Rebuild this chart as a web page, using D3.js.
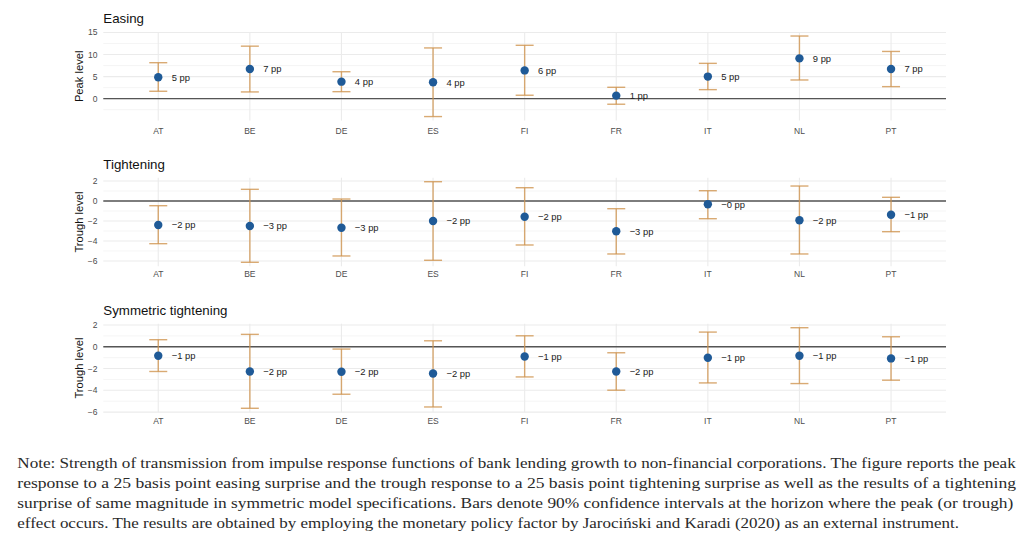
<!DOCTYPE html>
<html>
<head>
<meta charset="utf-8">
<script src="https://cdn.jsdelivr.net/npm/d3@7"></script>
<style>
  html, body { margin: 0; padding: 0; background: #fff; }
  svg { display: block; }
</style>
</head>
<body>
<svg id="chart" width="1024" height="540"></svg>
<script>
// ---------------- DATA ----------------
const countries = ["AT", "BE", "DE", "ES", "FI", "FR", "IT", "NL", "PT"];

const easingEst = [4.84, 6.72, 3.85, 3.70, 6.40, 0.68, 5.00, 9.13, 6.72];
const easingLo  = [1.67, 1.52, 1.58, -4.07, 0.77, -1.27, 2.04, 4.23, 2.72];
const easingHi  = [8.15, 11.90, 6.10, 11.50, 12.10, 2.57, 8.00, 14.20, 10.70];
const easingLabels = ["5 pp", "7 pp", "4 pp", "4 pp", "6 pp", "1 pp", "5 pp", "9 pp", "7 pp"];

const tightEst = [-2.40, -2.50, -2.67, -2.00, -1.57, -3.03, -0.33, -1.93, -1.37];
const tightLo  = [-4.27, -6.13, -5.50, -5.93, -4.40, -5.30, -1.77, -5.30, -3.07];
const tightHi  = [-0.47, 1.17, 0.20, 1.93, 1.33, -0.77, 1.03, 1.50, 0.37];
const tightLabels = ["−2 pp", "−3 pp", "−3 pp", "−2 pp", "−2 pp", "−3 pp", "−0 pp", "−2 pp", "−1 pp"];

const symEst = [-0.83, -2.27, -2.30, -2.45, -0.89, -2.27, -1.01, -0.83, -1.07];
const symLo  = [-2.27, -5.65, -4.36, -5.53, -2.77, -3.99, -3.32, -3.38, -3.07];
const symHi  = [0.65, 1.14, -0.21, 0.55, 1.01, -0.55, 1.35, 1.75, 0.92];
const symLabels = ["−1 pp", "−2 pp", "−2 pp", "−2 pp", "−1 pp", "−2 pp", "−1 pp", "−1 pp", "−1 pp"];

const panelTitles = ["Easing", "Tightening", "Symmetric tightening"];
const axisTitles = ["Peak level", "Trough level", "Trough level"];
const easingTicks = [0, 5, 10, 15];
const troughTicks = [-6, -4, -2, 0, 2];

const noteLines = [
  "Note: Strength of transmission from impulse response functions of bank lending growth to non-financial corporations. The figure reports the peak",
  "response to a 25 basis point easing surprise and the trough response to a 25 basis point tightening surprise as well as the results of a tightening",
  "surprise of same magnitude in symmetric model specifications. Bars denote 90% confidence intervals at the horizon where the peak (or trough)",
  "effect occurs. The results are obtained by employing the monetary policy factor by Jarociński and Karadi (2020) as an external instrument."
];

// ---------------- LAYOUT ----------------
const svg = d3.select("#chart");
const plotLeft = 103.3, plotRight = 946;
const panelH = 88.6;
const panels = [
  { top: 32.0,  est: easingEst, lo: easingLo, hi: easingHi, labels: easingLabels, ticks: easingTicks, titleY: 23,  xlabY: 133.5 },
  { top: 177.7, est: tightEst,  lo: tightLo,  hi: tightHi,  labels: tightLabels,  ticks: troughTicks, titleY: 169, xlabY: 277 },
  { top: 323.7, est: symEst,    lo: symLo,    hi: symHi,    labels: symLabels,    ticks: troughTicks, titleY: 315, xlabY: 424 }
];

const x = d3.scalePoint().domain(countries).range([plotLeft, plotRight]).padding(0.6);
const fmt = v => (v < 0 ? "−" + Math.abs(v) : String(v));

const barColor = "#CF9550";
const pointColor = "#1F5A97";
const capHalf = 9;

panels.forEach((p, i) => {
  const lo = d3.min(p.lo), hi = d3.max(p.hi);
  const pad = (hi - lo) * 0.05;
  const y = d3.scaleLinear().domain([lo - pad, hi + pad]).range([p.top + panelH, p.top]);
  const g = svg.append("g");
  const [d0, d1] = y.domain();

  // minor grid
  const step = p.ticks[1] - p.ticks[0];
  const minor = d3.range(Math.ceil(d0 / (step / 2)) * (step / 2), d1, step / 2)
    .filter(v => !p.ticks.includes(v) && Math.abs(v % step) > 1e-9);
  g.selectAll(".minor").data(minor).join("line")
    .attr("x1", plotLeft).attr("x2", plotRight)
    .attr("y1", d => y(d)).attr("y2", d => y(d))
    .attr("stroke", "#F2F2F2").attr("stroke-width", 0.8);

  // major grid
  g.selectAll(".major").data(p.ticks.filter(t => t >= d0 && t <= d1)).join("line")
    .attr("x1", plotLeft).attr("x2", plotRight)
    .attr("y1", d => y(d)).attr("y2", d => y(d))
    .attr("stroke", "#EBEBEB").attr("stroke-width", 1.1);

  // vertical grid
  g.selectAll(".vgrid").data(countries).join("line")
    .attr("x1", d => x(d)).attr("x2", d => x(d))
    .attr("y1", p.top + panelH).attr("y2", p.top)
    .attr("stroke", "#EBEBEB").attr("stroke-width", 1.1);

  // zero line
  g.append("line")
    .attr("x1", plotLeft).attr("x2", plotRight)
    .attr("y1", y(0)).attr("y2", y(0))
    .attr("stroke", "#555555").attr("stroke-width", 1.4);

  // y ticks
  g.selectAll(".ytick").data(p.ticks.filter(t => t >= d0 && t <= d1)).join("text")
    .attr("x", 97.5).attr("y", d => y(d))
    .attr("dy", "0.35em")
    .attr("text-anchor", "end")
    .attr("font-family", "Liberation Sans, Arial, sans-serif")
    .attr("font-size", 8.5)
    .attr("fill", "#4D4D4D")
    .text(d => fmt(d));

  // x ticks
  g.selectAll(".xtick").data(countries).join("text")
    .attr("x", d => x(d)).attr("y", p.xlabY)
    .attr("text-anchor", "middle")
    .attr("font-family", "Liberation Sans, Arial, sans-serif")
    .attr("font-size", 8.5)
    .attr("fill", "#4D4D4D")
    .text(d => d);

  // title
  g.append("text")
    .attr("x", plotLeft).attr("y", p.titleY)
    .attr("font-family", "Liberation Sans, Arial, sans-serif")
    .attr("font-size", 13.3)
    .attr("fill", "#111")
    .text(panelTitles[i]);

  // y axis title
  g.append("text")
    .attr("transform", `translate(82.5,${p.top + panelH / 2}) rotate(-90)`)
    .attr("text-anchor", "middle")
    .attr("font-family", "Liberation Sans, Arial, sans-serif")
    .attr("font-size", 11.2)
    .attr("fill", "#111")
    .text(axisTitles[i]);

  const rows = countries.map((c, k) => ({ c, est: p.est[k], lo: p.lo[k], hi: p.hi[k], label: p.labels[k] }));

  // error bars
  const eb = g.selectAll(".eb").data(rows).join("g")
    .attr("stroke", barColor).attr("stroke-opacity", 0.8).attr("stroke-width", 1.4).attr("fill", "none");
  eb.append("line")
    .attr("x1", d => x(d.c)).attr("x2", d => x(d.c))
    .attr("y1", d => y(d.lo)).attr("y2", d => y(d.hi));
  eb.append("line")
    .attr("x1", d => x(d.c) - capHalf).attr("x2", d => x(d.c) + capHalf)
    .attr("y1", d => y(d.lo)).attr("y2", d => y(d.lo));
  eb.append("line")
    .attr("x1", d => x(d.c) - capHalf).attr("x2", d => x(d.c) + capHalf)
    .attr("y1", d => y(d.hi)).attr("y2", d => y(d.hi));

  // points
  g.selectAll(".pt").data(rows).join("circle")
    .attr("cx", d => x(d.c)).attr("cy", d => y(d.est))
    .attr("r", 4.2)
    .attr("fill", pointColor);

  // value labels
  g.selectAll(".lab").data(rows).join("text")
    .attr("x", d => x(d.c) + 13.4).attr("y", d => y(d.est))
    .attr("dy", "0.35em")
    .attr("font-family", "Liberation Sans, Arial, sans-serif")
    .attr("font-size", 9.4)
    .attr("fill", "#222")
    .text(d => d.label);
});

// ---------------- NOTE ----------------
const noteEnds = [1015.7, 1016, 1013.3, 959];
const noteX = 17.3;
const noteG = svg.append("g")
  .attr("font-family", "Liberation Serif, 'DejaVu Serif', serif")
  .attr("font-size", 15.6)
  .attr("fill", "#2a2a2a");
noteLines.forEach((t, i) => {
  noteG.append("text")
    .attr("x", noteX).attr("y", 467.5 + i * 20.2)
    .attr("textLength", noteEnds[i] - noteX)
    .attr("lengthAdjust", "spacingAndGlyphs")
    .text(t);
});
</script>
</body>
</html>
